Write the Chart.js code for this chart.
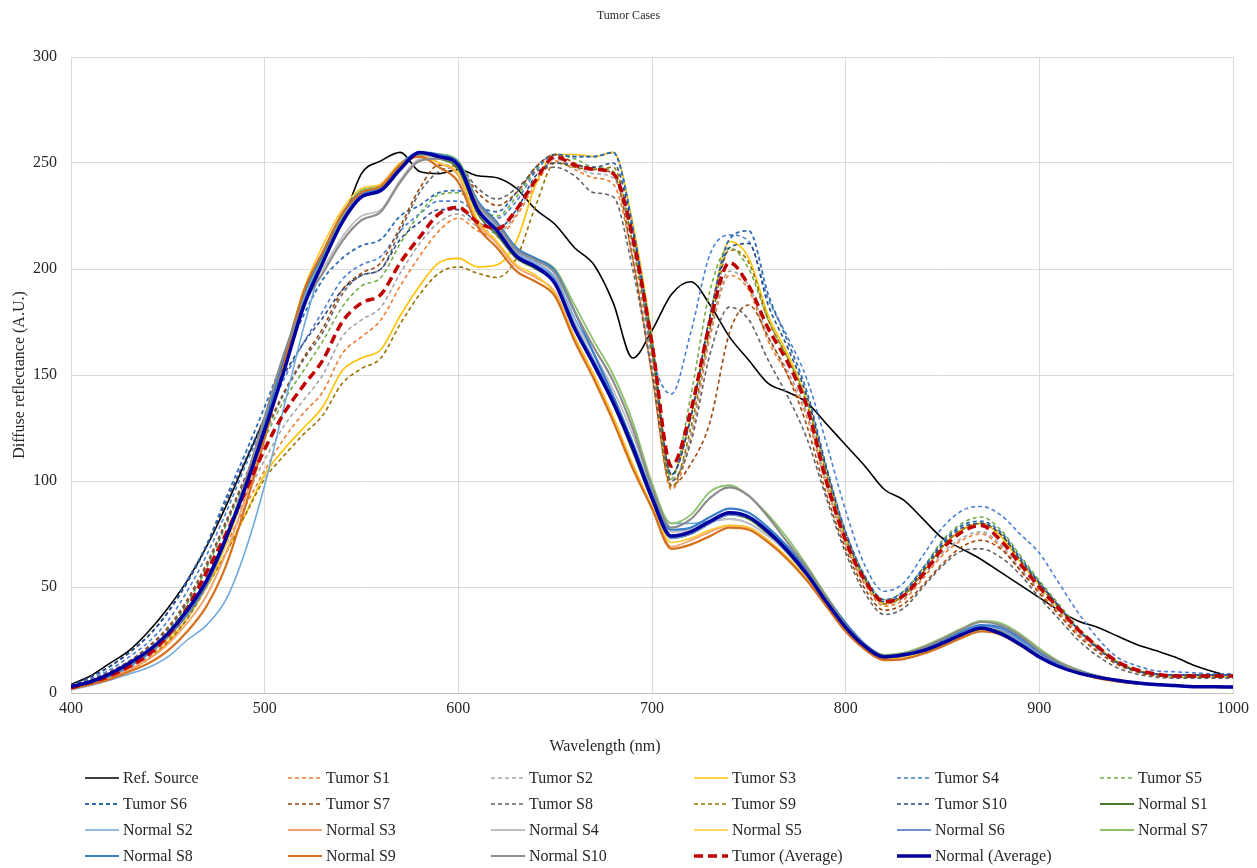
<!DOCTYPE html>
<html>
<head>
<meta charset="utf-8">
<title>Tumor Cases</title>
<script src="https://cdn.jsdelivr.net/npm/chart.js@4.4.1/dist/chart.umd.min.js"></script>
<style>
  html, body { margin: 0; background: #fff; }
  #wrap { width: 1257px; height: 868px; }
</style>
</head>
<body>
<div id="wrap"><canvas id="chart" width="1257" height="868"></canvas></div>
<script>
// Wavelength samples (nm)
const wavelengths = [
  400, 410, 420, 430, 440, 450, 460, 470, 480, 490,
  500, 510, 520, 530, 540, 550, 560, 570, 580, 590,
  600, 610, 620, 630, 640, 650, 660, 670, 680, 690,
  700, 710, 720, 730, 740, 750, 760, 770, 780, 790,
  800, 810, 820, 830, 840, 850, 860, 870, 880, 890,
  900, 910, 920, 930, 940, 950, 960, 970, 980, 990,
  1000
];

const xTicks = [400, 500, 600, 700, 800, 900, 1000];
const yTicks = [0, 50, 100, 150, 200, 250, 300];

// Diffuse reflectance (A.U.) per series
const refSource = [
  4, 8, 14, 20, 29, 40, 53, 69, 88, 109,
  130, 155, 182, 205, 222, 245, 251, 255, 246, 245,
  247, 244, 243, 238, 228, 221, 210, 202, 184, 158,
  171, 188, 194, 183, 168, 157, 146, 142, 137, 127,
  117, 107, 96, 91, 82, 73, 68, 63, 57, 51,
  45, 39, 34, 31, 27, 23, 20, 17, 13, 10,
  7.5
];

const tumorS1 = [
  2.5, 4.5, 7.5, 11.5, 16.5, 25, 37, 53, 70, 88,
  105, 120, 132, 142, 160, 168, 176, 192, 206, 218,
  224, 218, 215, 225, 240, 251, 247, 243, 240, 205,
  150, 96, 120, 168, 197, 190, 166, 150, 130, 98,
  70, 51, 41, 44, 54, 65, 72, 75, 69, 58,
  48, 38, 28, 20.5, 14, 10.5, 8.5, 7.5, 7.5, 7.5,
  7.5
];

const tumorS2 = [
  2.5, 5, 8, 12, 17.5, 26, 39, 55, 73, 92,
  110, 126, 138, 150, 168, 176, 182, 198, 212, 222,
  226, 220, 217, 226, 242, 252, 248, 245, 243, 210,
  155, 100, 122, 170, 199, 192, 168, 152, 132, 100,
  71, 52, 42, 45, 55, 66, 73, 76, 70, 59,
  49, 39, 29, 21, 14.5, 10.5, 8.5, 7.5, 7.5, 7.5,
  7.5
];

const tumorS3 = [
  2, 4.5, 7, 11, 16, 24, 35, 50, 66, 84,
  103, 115, 125, 135, 152, 158, 162, 178, 192, 203,
  205, 201, 202, 213, 240, 254, 254, 253, 255, 222,
  168, 103, 130, 178, 213, 205, 178, 160, 138, 104,
  73, 53, 42, 46, 57, 69, 77, 80, 74, 62,
  51, 40, 30, 22, 15, 11, 9, 8, 8, 8,
  8
];

const tumorS4 = [
  3, 6.5, 11, 17, 24, 34, 48, 65, 85, 107,
  128, 148, 165, 180, 195, 202, 206, 218, 226, 232,
  232, 226, 224, 232, 246, 254, 253, 253, 255, 220,
  160, 141, 170, 207, 216, 213, 186, 168, 148, 118,
  86, 60, 48, 52, 65, 78, 86, 88, 84, 75,
  66, 52, 38, 26, 17, 13, 10.5, 10, 9.5, 9,
  9
];

const tumorS5 = [
  2.8, 5.5, 9, 14, 20, 29, 42, 59, 79, 100,
  120, 138, 152, 166, 182, 192, 196, 212, 226, 235,
  236, 229, 225, 234, 247, 254, 252, 248, 246, 215,
  162, 101, 140, 190, 210, 200, 176, 158, 138, 105,
  76, 55, 44, 48, 59, 72, 80, 83, 77, 65,
  53, 42, 31, 22, 15, 11, 9, 8.5, 8.5, 8.5,
  8.5
];

const tumorS6 = [
  3.5, 7.5, 12.5, 19, 27, 38, 53, 70, 92, 113,
  135, 158, 178, 195, 205, 211, 214, 225, 230, 236,
  237, 230, 227, 236, 248, 254, 253, 253, 255, 220,
  165, 103, 130, 178, 214, 218, 188, 166, 142, 107,
  76, 55, 44, 48, 59, 71, 79, 81, 76, 64,
  52, 41, 30, 21, 14.5, 10.5, 9, 8.5, 8.5, 8.5,
  8.5
];

const tumorS7 = [
  3, 6, 10, 15, 22, 31, 44, 61, 81, 102,
  123, 142, 158, 172, 190, 198, 203, 220, 238, 249,
  248, 236, 230, 236, 248, 254, 250, 247, 245, 205,
  150, 98, 108, 128, 170, 183, 168, 150, 126, 94,
  68, 49, 39, 42, 51, 61, 69, 72, 68, 58,
  47, 37, 27, 19.5, 13.5, 10, 8, 7.5, 7.5, 7.5,
  7.5
];

const tumorS8 = [
  3, 6, 10, 15, 21.5, 30, 43, 60, 80, 101,
  122, 141, 157, 170, 188, 197, 200, 218, 236, 246,
  248, 238, 233, 238, 246, 248, 244, 236, 234, 200,
  152, 100, 118, 160, 182, 176, 157, 140, 120, 92,
  66, 47, 37, 40, 50, 60, 67, 68, 64, 56,
  45, 35, 25, 17.5, 12, 9, 7.5, 7, 7, 7,
  7
];

const tumorS9 = [
  2, 4.5, 7, 11, 16, 24, 35, 50, 66, 84,
  101, 112, 122, 131, 146, 153, 158, 174, 188, 198,
  201, 198, 196, 205, 230, 250, 248, 247, 248, 212,
  160, 97, 125, 172, 209, 203, 176, 158, 136, 103,
  73, 53, 42, 46, 57, 69, 77, 80, 75, 63,
  51, 40, 30, 21.5, 14.5, 10.5, 8.5, 8, 8, 8,
  8
];

const tumorS10 = [
  3.5, 7.5, 12.5, 19, 27, 38, 52, 69, 90, 110,
  130, 150, 165, 177, 190, 197, 200, 214, 222, 228,
  228, 222, 219, 228, 244, 250, 249, 248, 250, 218,
  165, 103, 130, 178, 210, 212, 183, 163, 140, 106,
  75, 54, 43, 47, 58, 70, 78, 80, 75, 63,
  52, 41, 30, 21.5, 14.5, 10.5, 9, 8.5, 8.5, 8.5,
  8.5
];

const normalS1 = [
  2.8, 5, 8.5, 13.5, 19.5, 27, 38, 52, 72, 97,
  125, 153, 183, 204, 224, 237, 239, 249, 254, 252,
  247, 226, 216, 205, 200, 193, 172, 154, 136, 114,
  91, 73, 75, 80, 84, 82, 75, 66, 55, 42,
  30, 21, 16.5, 17.5, 20, 24, 28, 30.5, 29, 24,
  18, 13, 10, 7.5, 6, 4.5, 4, 3.5, 3, 3,
  2.8
];

const normalS2 = [
  1.5, 3.5, 6, 9, 12, 17, 25, 32, 44, 67,
  98, 135, 172, 203, 224, 236, 238, 248, 254, 254,
  250, 230, 220, 208, 203, 196, 177, 160, 140, 118,
  95, 80, 80, 81, 82, 80, 74, 66, 55, 43,
  31, 22, 17, 17.5, 20, 23, 27, 30, 28.5, 24,
  18, 13, 10, 7.5, 6, 4.5, 4, 3.5, 3, 3,
  2.8
];

const normalS3 = [
  2, 4, 7, 11, 16, 23, 33, 46, 66, 92,
  122, 155, 188, 208, 226, 236, 240, 250, 254, 250,
  244, 222, 212, 201, 196, 189, 168, 150, 130, 108,
  88, 69, 72, 76, 79, 78, 72, 63, 53, 41,
  29, 20.5, 16, 16.5, 19, 22.5, 26.5, 29.5, 28, 23,
  17.5, 12.5, 9.5, 7, 5.5, 4.5, 4, 3.5, 3, 3,
  2.8
];

const normalS4 = [
  2.5, 5, 8.5, 13, 19, 27, 38, 52, 73, 100,
  130, 160, 185, 200, 215, 225, 228, 242, 252, 253,
  250, 230, 219, 207, 202, 195, 175, 160, 143, 122,
  96, 76, 77, 81, 82, 80, 74, 66, 55, 42,
  31, 22, 17, 18, 20.5, 24, 28.5, 31.5, 30, 25,
  19, 14, 10.5, 8, 6, 4.5, 4, 3.5, 3, 3,
  2.8
];

const normalS5 = [
  2.5, 5, 8.5, 13, 18.5, 26, 37, 50, 70, 96,
  126, 158, 190, 211, 228, 238, 240, 250, 253, 250,
  245, 223, 213, 202, 197, 188, 168, 150, 130, 108,
  88, 71, 73, 77, 79, 78, 72, 64, 54, 42,
  30, 21, 16, 16.5, 19, 22.5, 26.5, 29.5, 28, 23,
  17.5, 12.5, 9.5, 7, 5.5, 4.5, 4, 3.5, 3, 3,
  2.8
];

const normalS6 = [
  2.8, 5, 8.5, 13.5, 19.5, 27.5, 38.5, 53, 74, 99,
  127, 156, 185, 205, 224, 235, 238, 248, 254, 253,
  249, 229, 219, 207, 202, 195, 174, 157, 139, 118,
  93, 73, 75, 80, 84, 83, 77, 68, 57, 44,
  32, 22, 17, 18, 20.5, 24, 28.5, 31.5, 30, 25,
  18.5, 13.5, 10, 7.5, 6, 4.5, 4, 3.5, 3, 3,
  2.8
];

const normalS7 = [
  2.5, 5, 8.5, 13.5, 19.5, 27.5, 38.5, 52, 72, 97,
  126, 157, 187, 206, 225, 237, 239, 249, 254, 254,
  251, 232, 222, 210, 205, 200, 183, 166, 150, 128,
  99, 80, 84, 95, 98, 93, 84, 73, 60, 46,
  33, 23, 18, 19, 22, 26, 30.5, 34, 33, 28,
  21, 15, 11, 8, 6, 5, 4, 3.5, 3, 3,
  2.8
];

const normalS8 = [
  2.5, 4.8, 8, 12.5, 18.5, 26.5, 37, 51, 72, 98,
  127, 158, 188, 207, 226, 236, 238, 249, 255, 254,
  250, 232, 222, 210, 205, 199, 180, 160, 140, 118,
  94, 77, 78, 83, 87, 85, 78, 69, 58, 45,
  33, 23, 17.5, 18.5, 21, 25, 29, 32, 31, 26,
  19.5, 14, 10.5, 8, 6, 4.5, 4, 3.5, 3, 3,
  2.8
];

const normalS9 = [
  2, 4, 6.5, 10, 14, 20, 29, 41, 60, 88,
  120, 155, 189, 208, 226, 236, 239, 249, 253, 248,
  241, 220, 210, 199, 194, 187, 166, 148, 128, 106,
  87, 68, 70, 74, 78, 77, 71, 63, 53, 41,
  29, 20.5, 15.5, 16, 18.5, 22, 26, 29, 27.5, 22.5,
  17, 12.5, 9.5, 7, 5.5, 4.5, 4, 3.5, 3, 3,
  2.8
];

const normalS10 = [
  2.5, 5, 8.5, 13, 19, 27, 38, 52, 73, 100,
  130, 160, 183, 198, 213, 223, 227, 241, 251, 252,
  249, 231, 221, 209, 204, 198, 180, 163, 147, 125,
  97, 78, 82, 92, 97, 93, 83, 71, 59, 45,
  32, 22.5, 17.5, 18.5, 21.5, 25.5, 30, 33.5, 32, 27,
  20, 14.5, 10.5, 8, 6, 4.5, 4, 3.5, 3, 3,
  2.8
];

const tumorAvg = [
  2.5, 5, 8, 12.5, 18, 27, 40, 57, 75, 95,
  115, 132, 145, 157, 175, 184, 188, 203, 215, 226,
  229, 222, 219, 228, 242, 253, 249, 247, 245, 215,
  165, 107, 133, 175, 203, 192, 172, 156, 135, 100,
  72, 53, 43, 46, 56, 68, 76, 79, 72, 61,
  50, 40, 30, 22, 15, 11, 9, 8, 8, 8,
  8
];

const normalAvg = [
  3, 5.3, 9, 14, 20, 28, 39, 53, 73, 97,
  124, 152, 182, 203, 222, 234, 237, 247, 255, 253,
  249, 228, 218, 206, 201, 193, 172, 155, 137, 116,
  92, 74, 76, 81, 85, 83, 76, 67, 56, 43,
  31, 22, 17, 18, 20, 23.5, 27.5, 30.5, 28, 23,
  17, 12.5, 9.5, 7.5, 6, 4.8, 4, 3.5, 3, 3,
  2.8
];

// Series in legend order: [label, values, colour, width, dash]
const series = [
  ["Ref. Source", refSource, "#000000", 1.6, []],
  ["Tumor S1", tumorS1, "#ED7D31", 1.6, [4, 3]],
  ["Tumor S2", tumorS2, "#A5A5A5", 1.6, [4, 3]],
  ["Tumor S3", tumorS3, "#FFC000", 1.6, []],
  ["Tumor S4", tumorS4, "#4A7FD0", 1.6, [4, 3]],
  ["Tumor S5", tumorS5, "#70AD47", 1.6, [4, 3]],
  ["Tumor S6", tumorS6, "#2E6DB4", 1.8, [4, 3]],
  ["Tumor S7", tumorS7, "#9E480E", 1.6, [4, 3]],
  ["Tumor S8", tumorS8, "#636363", 1.6, [4, 3]],
  ["Tumor S9", tumorS9, "#997300", 1.6, [4, 3]],
  ["Tumor S10", tumorS10, "#2F4B85", 1.6, [4, 3]],
  ["Normal S1", normalS1, "#4E7A30", 1.8, []],
  ["Normal S2", normalS2, "#6FA8DC", 1.6, []],
  ["Normal S3", normalS3, "#F4A16A", 1.8, []],
  ["Normal S4", normalS4, "#BFBFBF", 1.8, []],
  ["Normal S5", normalS5, "#FFC829", 1.6, []],
  ["Normal S6", normalS6, "#6D8FD6", 1.8, []],
  ["Normal S7", normalS7, "#8CC168", 1.8, []],
  ["Normal S8", normalS8, "#3A7DC9", 2.2, []],
  ["Normal S9", normalS9, "#D4701F", 2.2, []],
  ["Normal S10", normalS10, "#8C8C8C", 2.2, []],
  ["Tumor (Average)", tumorAvg, "#C00000", 3.5, [9, 5]],
  ["Normal (Average)", normalAvg, "#0000A0", 3.5, []]
];

const chartTitle = "Tumor Cases";
const xTitle = "Wavelength (nm)";
const yTitle = "Diffuse reflectance (A.U.)";

const serif = "'Liberation Serif', 'Times New Roman', serif";
const textColor = "#262626";

// Chart title and x-axis title, placed by hand
const titles = {
  id: "titles",
  afterDraw(chart) {
    const ctx = chart.ctx;
    ctx.save();
    ctx.fillStyle = textColor;
    ctx.textAlign = "center";
    ctx.textBaseline = "middle";
    ctx.font = "12px " + serif;
    ctx.fillText(chartTitle, chart.width / 2, 16);
    ctx.font = "16px " + serif;
    ctx.fillText(xTitle, 605, 747);
    ctx.restore();
  }
};

// Legend laid out as a 6-column grid under the x-axis title
const gridLegend = {
  id: "gridLegend",
  afterDraw(chart) {
    const ctx = chart.ctx;
    ctx.save();
    ctx.font = "16px " + serif;
    ctx.textBaseline = "middle";
    chart.data.datasets.forEach((ds, i) => {
      const x = 85 + (i % 6) * 203;
      const y = 778 + Math.floor(i / 6) * 26;
      ctx.beginPath();
      ctx.strokeStyle = ds.borderColor;
      ctx.lineWidth = ds.borderWidth;
      ctx.setLineDash(ds.borderDash);
      ctx.moveTo(x, y);
      ctx.lineTo(x + 34, y);
      ctx.stroke();
      ctx.setLineDash([]);
      ctx.fillStyle = textColor;
      ctx.fillText(ds.label, x + 38, y + 1);
    });
    ctx.restore();
  }
};

const datasets = series.map(([label, values, color, width, dash], i) => ({
  label: label,
  data: values.map((v, k) => ({ x: wavelengths[k], y: v })),
  borderColor: color,
  backgroundColor: color,
  borderWidth: width,
  borderDash: dash,
  pointRadius: 0,
  fill: false,
  cubicInterpolationMode: "monotone",
  // later series sit on top
  order: series.length - i
}));

new Chart(document.getElementById("chart"), {
  type: "line",
  data: { datasets: datasets },
  options: {
    responsive: false,
    animation: false,
    devicePixelRatio: 1,
    layout: { padding: { left: 0, right: 24, top: 57, bottom: 112 } },
    plugins: {
      legend: { display: false },
      tooltip: { enabled: false },
      title: { display: false }
    },
    scales: {
      x: {
        type: "linear",
        min: xTicks[0],
        max: xTicks[xTicks.length - 1],
        afterBuildTicks: (scale) => { scale.ticks = xTicks.map(v => ({ value: v })); },
        afterFit: (scale) => { scale.height = 63; },
        ticks: {
          color: textColor, font: { family: serif, size: 16 }, padding: 6, maxRotation: 0,
          callback: (v) => String(v)
        },
        grid: { color: "#d9d9d9", drawTicks: false },
        border: { color: "#bfbfbf", width: 1 }
      },
      y: {
        min: yTicks[0],
        max: yTicks[yTicks.length - 1],
        afterBuildTicks: (scale) => { scale.ticks = yTicks.map(v => ({ value: v })); },
        afterFit: (scale) => { scale.width = 71; },
        ticks: { color: textColor, font: { family: serif, size: 16 }, padding: 14 },
        grid: { color: "#d9d9d9", drawTicks: false },
        border: { display: false },
        title: {
          display: true, text: yTitle, color: textColor,
          font: { family: serif, size: 16 }, padding: { top: 10, bottom: 0 }
        }
      }
    }
  },
  plugins: [titles, gridLegend]
});
</script>
</body>
</html>
